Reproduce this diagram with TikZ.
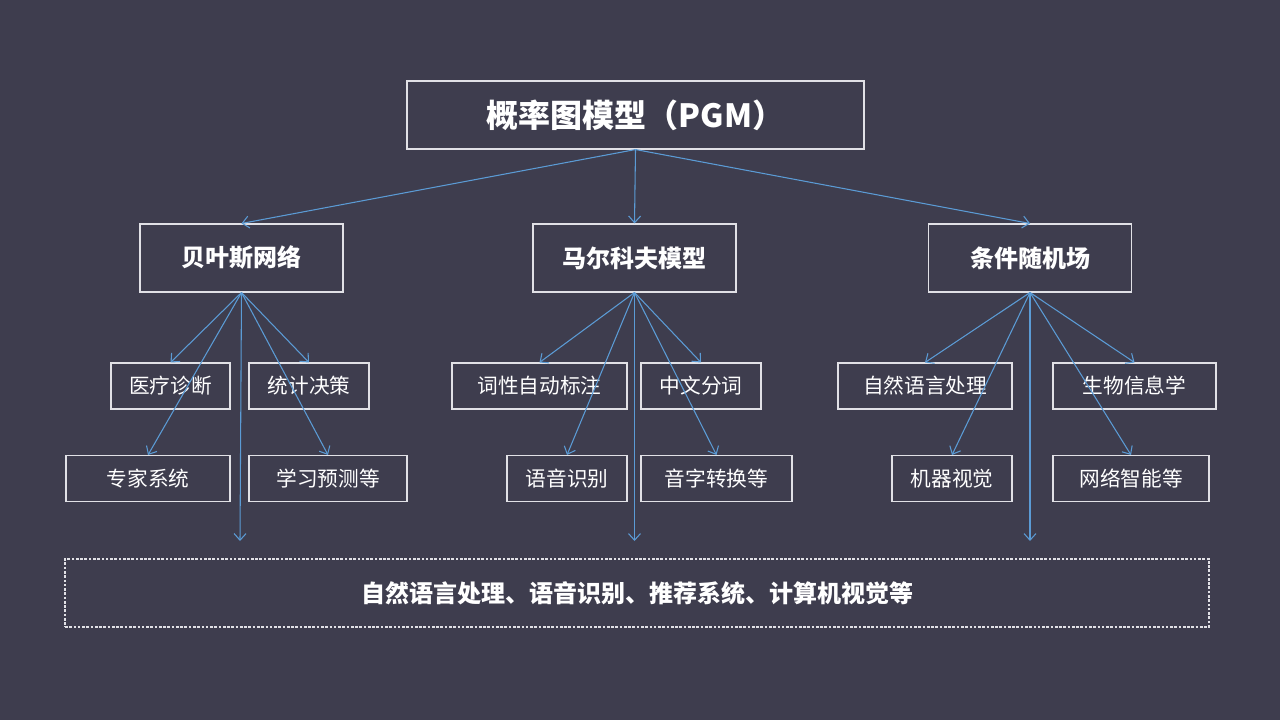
\documentclass[tikz,border=0pt]{standalone}
\usepackage{fontspec}
\setmainfont{Noto Sans CJK SC}
\usetikzlibrary{arrows.meta}
\definecolor{slate}{RGB}{62,61,78}
\definecolor{edgeblue}{RGB}{91,155,213}
\definecolor{framegray}{RGB}{225,225,230}
\begin{document}
\begin{tikzpicture}[
x=0.75pt, y=-0.75pt,
box/.style={draw=framegray, line width=0.8pt, text=white, inner sep=0pt},
wd/.style={minimum width=#1*0.75pt},
ht/.style={minimum height=#1*0.75pt},
top/.style={box, font=\fontsize{24}{28}\selectfont\bfseries},
mid/.style={box, font=\fontsize{18}{22}\selectfont\bfseries, wd=203, ht=68},
leaf/.style={box, font=\fontsize{15.5}{19}\selectfont, ht=46},
link/.style={draw=edgeblue, line width=0.8pt, -{Straight Barb[length=5pt,width=9pt]}},
%every node/.style={scale=0.6},
]
\fill[slate] (0,0) rectangle (1280,720);
\useasboundingbox (0,0) rectangle (1280,720);

\node [top, wd=457, ht=68] (pgm) at (635.5,115) {概率图模型（PGM）};

\node [mid] (bayes) at (241.5,258) {贝叶斯网络};
\node [mid] (markov) at (634.5,258) {马尔科夫模型};
\node [mid] (crf) at (1030,258) {条件随机场};

% bayes leaves
\node [leaf, wd=119] (med) at (170.5,386) {医疗诊断};
\node [leaf, wd=120] (stat) at (309,386) {统计决策};
\node [leaf, wd=164] (expert) at (148,478.5) {专家系统};
\node [leaf, wd=158] (learn) at (328,478.5) {学习预测等};
% markov leaves
\node [leaf, wd=175] (pos) at (539.5,386) {词性自动标注};
\node [leaf, wd=120] (seg) at (701,386) {中文分词};
\node [leaf, wd=120] (speech) at (567,478.5) {语音识别};
\node [leaf, wd=151] (pinyin) at (716.5,478.5) {音字转换等};
% crf leaves
\node [leaf, wd=174] (nlp) at (925,386) {自然语言处理};
\node [leaf, wd=163] (bio) at (1134.5,386) {生物信息学};
\node [leaf, wd=120] (vision) at (952,478.5) {机器视觉};
\node [leaf, wd=156] (web) at (1131,478.5) {网络智能等};

\node [box, dash pattern=on 2pt off 1.2pt, font=\fontsize{18}{22}\selectfont\bfseries, wd=1144, ht=68] (apps) at (637,593)
	{自然语言处理、语音识别、推荐系统、计算机视觉等};

\coordinate (bayesend) at (240,541);
\coordinate (markovend) at (634.5,541);
\coordinate (crfend) at (1030,541);

\draw [link] (pgm.south) -- (bayes.north);
\draw [link] (pgm.south) -- (markov.north);
\draw [link] (pgm.south) -- (crf.north);

\foreach \leaf in {med,stat,expert,learn}
	\draw [link] (bayes.south) -- (\leaf.north);
\foreach \leaf in {pos,seg,speech,pinyin}
	\draw [link] (markov.south) -- (\leaf.north);
\foreach \leaf in {nlp,bio,vision,web}
	\draw [link] (crf.south) -- (\leaf.north);

\draw [link] (bayes.south) -- (bayesend);
\draw [link] (markov.south) -- (markovend);
\draw [link] (crf.south) -- (crfend);
\end{tikzpicture}
\end{document}
